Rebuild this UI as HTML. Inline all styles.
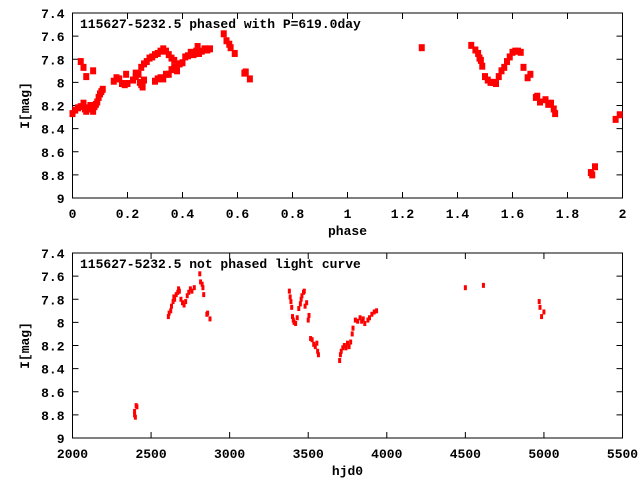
<!DOCTYPE html>
<html><head><meta charset="utf-8"><style>
body{margin:0;background:#fff}
svg{display:block}
text{font-family:"Liberation Mono",monospace;font-weight:bold;font-size:13px;fill:#000}
</style></head><body>
<svg id="c" width="640" height="480"></svg>
<script>
const topPhase=[0,0.01,0.02,0.03,0.04,0.045,0.05,0.06,0.065,0.07,0.075,0.08,0.085,0.09,0.095,0.1,0.105,0.11,0.03,0.04,0.05,0.075,
0.15,0.16,0.17,0.18,0.19,0.195,0.2,0.22,0.23,0.24,0.245,0.25,0.255,0.26,0.23,
0.25,0.26,0.27,0.28,0.29,0.3,0.31,0.32,0.33,0.34,0.35,0.36,0.37,
0.3,0.31,0.32,0.33,0.34,0.35,0.36,0.37,0.38,0.385,0.39,0.4,
0.41,0.42,0.43,0.44,0.45,0.455,0.46,0.47,0.48,0.49,0.5,
0.55,0.56,0.57,0.575,0.59,0.625,0.63,0.645,
1.27,1.45,1.465,1.475,1.48,1.485,1.49,1.5,1.51,1.52,1.53,1.54,1.55,1.56,1.57,1.58,1.59,1.6,1.61,1.62,1.63,1.64,1.655,1.665,1.685,1.69,1.7,1.72,1.73,1.74,1.75,1.755,1.885,1.89,1.9,1.975,1.99];
const topMag=[8.27,8.24,8.22,8.21,8.18,8.23,8.25,8.22,8.2,8.23,8.25,8.21,8.19,8.17,8.13,8.1,8.08,8.06,7.82,7.87,7.95,7.9,
7.99,7.96,7.97,8.01,8.02,7.93,8.01,7.98,7.95,7.93,8.0,8.02,8.04,7.98,7.92,
7.87,7.84,7.82,7.79,7.78,7.76,7.75,7.73,7.71,7.73,7.76,7.79,7.81,
7.99,7.97,7.96,7.97,7.93,7.93,7.89,7.87,7.9,7.84,7.84,7.83,
7.78,7.77,7.74,7.76,7.73,7.69,7.75,7.73,7.71,7.72,7.71,
7.58,7.64,7.67,7.7,7.75,7.92,7.91,7.97,
7.7,7.68,7.72,7.75,7.79,7.81,7.86,7.95,7.98,8.0,8.0,8.01,7.95,7.9,7.87,7.82,7.78,7.74,7.73,7.73,7.74,7.87,7.96,7.93,8.13,8.12,8.17,8.15,8.19,8.18,8.23,8.27,8.78,8.8,8.73,8.32,8.28];
const hjd=[2395,2395,2400,2410,2405,
2610,2615,2625,2630,2640,2645,2650,2660,2670,2675,2680,2690,2700,2710,2720,2730,2740,2750,2760,2775,2810,2815,2825,2830,2835,2855,2860,2875,
3380,3385,3390,3395,3400,3405,3410,3420,3430,3440,3450,3455,3460,3470,3475,3480,3490,3500,3505,3515,3525,3535,3545,3555,3560,3565,
3700,3705,3710,3720,3730,3740,3750,3760,3770,3780,3785,3800,3815,3830,3840,3850,3860,3880,3890,3905,3920,3935,
4500,4615,4970,4975,4985,5000];
const hjdMag=[8.8,8.77,8.82,8.73,8.72,
7.95,7.92,7.9,7.86,7.82,7.78,7.8,7.76,7.74,7.71,7.73,7.8,7.83,7.85,7.82,7.77,7.74,7.71,7.73,7.7,7.58,7.65,7.67,7.7,7.76,7.93,7.92,7.97,
7.73,7.78,7.82,7.87,7.95,7.98,8.0,8.01,7.96,7.88,7.84,7.8,7.77,7.74,7.73,7.86,7.83,7.98,7.94,8.14,8.15,8.19,8.21,8.18,8.25,8.28,
8.33,8.28,8.25,8.22,8.2,8.22,8.18,8.21,8.17,8.1,8.05,7.98,7.99,7.96,7.99,7.97,8.01,7.98,7.96,7.93,7.91,7.9,
7.7,7.68,7.82,7.87,7.95,7.91];
const yTicks=["7.4","7.6","7.8","8","8.2","8.4","8.6","8.8","9"];
const xTicksTop=["0","0.2","0.4","0.6","0.8","1","1.2","1.4","1.6","1.8","2"];
const xTicksBot=["2000","2500","3000","3500","4000","4500","5000","5500"];

const NS="http://www.w3.org/2000/svg";
const svg=document.getElementById('c');
function mk(tag,attrs,parent){const e=document.createElementNS(NS,tag);for(const k in attrs)e.setAttribute(k,attrs[k]);(parent||svg).appendChild(e);return e;}
const L=72.5,R=622.5;
function panel(name,T,B,xmin,xmax,xt,xs,ys,title,xlabel,mw,mh){
  const g=mk('g',{});
  
  
  const sx=v=>L+(v-xmin)/(xmax-xmin)*(R-L);
  const sy=v=>T+(v-7.4)/1.6*(B-T);
  yTicks.forEach(t=>{const y=sy(parseFloat(t));
    mk('line',{x1:L,x2:L+6,y1:y,y2:y,stroke:'#000'},g);
    mk('line',{x1:R-6,x2:R,y1:y,y2:y,stroke:'#000'},g);
    const tx=mk('text',{x:L-8,y:y+5,'text-anchor':'end'},g);tx.textContent=t;
    
    
  });
  xt.forEach(t=>{const x=sx(parseFloat(t));
    mk('line',{x1:x,x2:x,y1:B,y2:B-6,stroke:'#000'},g);
    mk('line',{x1:x,x2:x,y1:T,y2:T+6,stroke:'#000'},g);
    const tx=mk('text',{x:x,y:B+20,'text-anchor':'middle'},g);tx.textContent=t;
    
    
  });
  mk('rect',{x:L,y:T,width:R-L,height:B-T,fill:'none',stroke:'#000'},g);
  const pts=mk('g',{fill:'#f00'},g);
  
  
  xs.forEach((v,i)=>{const r=mk('rect',{x:sx(v)-mw/2,y:sy(ys[i])-mh/2,width:mw,height:mh},pts);
    
    });
  const ti=mk('text',{x:80,y:T+15},g);ti.textContent=title;
  
  
  const yl=mk('text',{x:0,y:0,transform:`translate(29,${(T+B)/2}) rotate(-90)`,'text-anchor':'middle'},g);yl.textContent='I[mag]';
  
  
  const xl=mk('text',{x:(L+R)/2,y:B+37,'text-anchor':'middle'},g);xl.textContent=xlabel;
  
  
}
panel('phased-panel',13,198,0,2,xTicksTop,topPhase,topMag,'115627-5232.5 phased with P=619.0day','phase',6,7);
panel('raw-panel',253,438,2000,5500,xTicksBot,hjd,hjdMag,'115627-5232.5 not phased light curve','hjd0',3,5);
</script>
</body></html>
